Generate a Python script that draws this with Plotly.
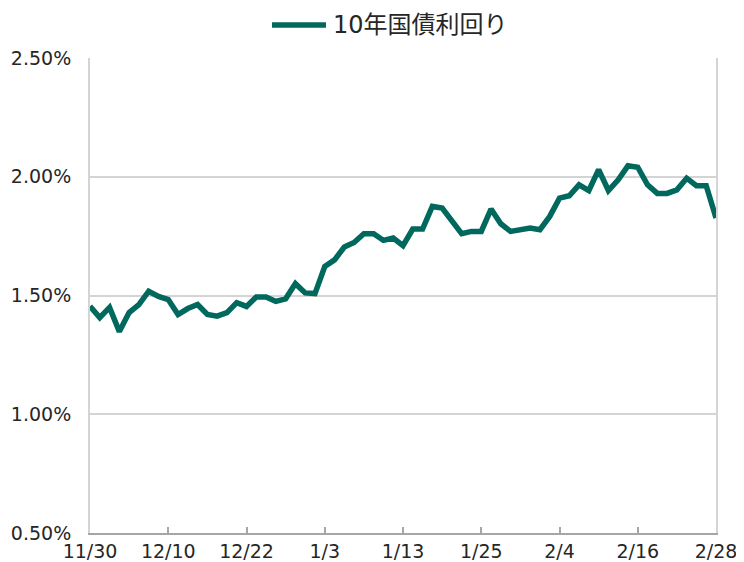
import pandas as pd
import plotly.graph_objects as go

series_name = "10年国債利回り"
dates = [d.strftime("%Y-%m-%d") for d in pd.bdate_range("2021-11-30", "2022-02-28")]
yields = [
    1.455, 1.407, 1.450, 1.348, 1.428, 1.462, 1.518, 1.496, 1.483,
    1.420, 1.445, 1.462, 1.420, 1.413, 1.428, 1.470, 1.454,
    1.494, 1.494, 1.475, 1.486, 1.550, 1.511, 1.508, 1.622,
    1.650, 1.704, 1.723, 1.760, 1.760, 1.732, 1.742, 1.710,
    1.780, 1.780, 1.875, 1.868, 1.812, 1.760, 1.770, 1.770,
    1.864, 1.802, 1.770, 1.777, 1.784, 1.777, 1.833, 1.910,
    1.920, 1.966, 1.942, 2.030, 1.942, 1.987, 2.046, 2.040,
    1.966, 1.930, 1.930, 1.945, 1.994, 1.962, 1.962, 1.826,
]
tick_dates = ["2021-11-30", "2021-12-10", "2021-12-22", "2022-01-03", "2022-01-13",
              "2022-01-25", "2022-02-04", "2022-02-16", "2022-02-28"]
tick_labels = ["11/30", "12/10", "12/22", "1/3", "1/13", "1/25", "2/4", "2/16", "2/28"]
y_ticks = [0.005, 0.010, 0.015, 0.020, 0.025]

color = "rgb(0,104,92)"
font_family = "DejaVu Sans, Noto Sans CJK JP, sans-serif"

fig = go.Figure()
fig.add_trace(go.Scatter(
    x=dates, y=[v / 100 for v in yields], mode="lines", name=series_name,
    line=dict(color=color, width=5.5), showlegend=False,
))

# page body has an 8px margin, so the figure is sized/placed to compensate
fig.update_layout(
    width=736, height=554,
    margin=dict(l=82, r=28, t=50, b=29),
    paper_bgcolor="white", plot_bgcolor="white",
    font=dict(family=font_family, size=19, color="#262626"),
)
fig.update_xaxes(
    type="category", range=[0, len(dates) - 1], automargin=False,
    tickmode="array", tickvals=tick_dates, ticktext=tick_labels,
    showgrid=False, showline=True, linecolor="#a6a6a6", linewidth=2,
    ticks="inside", ticklen=6, tickcolor="#a6a6a6", tickwidth=1.5,
    tickfont=dict(size=19), zeroline=False, ticklabelstandoff=0,
)
fig.update_yaxes(
    range=[0.005, 0.025], tickmode="array", tickvals=y_ticks, automargin=False,
    tickformat=".2%", showgrid=True, gridcolor="#d4d4d4", gridwidth=1.5,
    showline=True, linecolor="#d4d4d4", linewidth=2, mirror=True,
    ticks="", ticklabelstandoff=13, tickfont=dict(size=19), zeroline=False,
)

# legend
fig.add_shape(type="line", xref="paper", yref="paper",
              x0=(272 - 90) / 626, x1=(326 - 90) / 626,
              y0=1 + (58 - 25) / 475, y1=1 + (58 - 25) / 475,
              line=dict(color=color, width=5.5))
fig.add_annotation(text=series_name, xref="paper", yref="paper",
                   x=(331 - 90) / 626, y=1 + (58 - 25) / 475,
                   xanchor="left", yanchor="middle", showarrow=False,
                   font=dict(size=24, color="#262626", family=font_family))

fig.write_html("out.html")
